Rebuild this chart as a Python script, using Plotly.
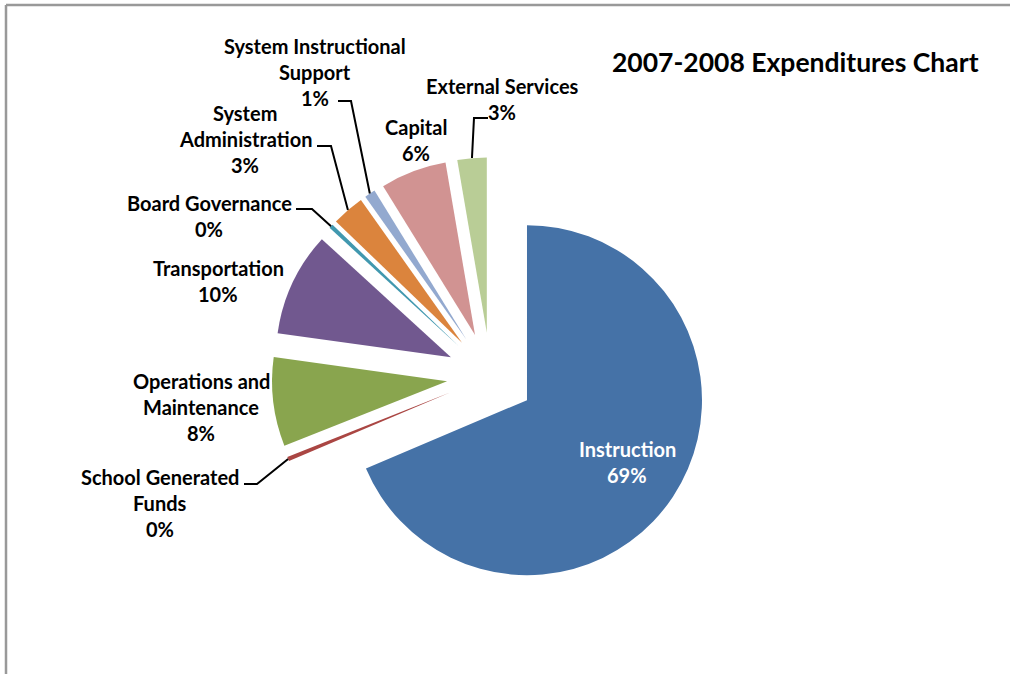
import math
import plotly.graph_objects as go

# ---------------- data ----------------
categories = ["Instruction", "School Generated Funds", "Operations and Maintenance",
              "Transportation", "Board Governance", "System Administration",
              "System Instructional Support", "Capital", "External Services"]
values = [68.6, 0.4, 8.2, 9.6, 0.4, 3.0, 1.0, 6.1, 2.7]
label_lines = [["Instruction"], ["School Generated", "Funds"], ["Operations and", "Maintenance"],
               ["Transportation"], ["Board Governance"], ["System", "Administration"],
               ["System Instructional", "Support"], ["Capital"], ["External Services"]]
colors = ["#4572A7", "#AA4643", "#89A54E", "#71588F", "#4198AF",
          "#DB843D", "#93A9CF", "#D19392", "#B9CD96"]
title_text = "2007-2008 Expenditures Chart"

# ---------------- layout constants ----------------
W, H = 1010, 674
CX, CY = 490.5, 376.0     # pie centre (px)
R = 175.0                 # pie radius (px)
PULL = 0.25               # explode fraction
FONT = "Lato"
FS = 20
LINE_H = 26

# label placement (centre x, first line centre y) in px
label_pos = [(627, 449), (160, 477), (201, 381), (218, 268), (209, 203),
             (245, 113), (315, 46), (416, 127), (502, 86)]
# leader lines: index -> (start x, start y, elbow x)
leaders = {1: (244, 484, 257), 4: (296, 209, 312), 5: (317, 146, 331),
           6: (338, 101, 351), 8: (488, 118, 474)}


def px(x):
    return x / W


def py(y):
    return 1 - y / H


half = R * (1 + PULL)
fig = go.Figure(go.Pie(
    labels=categories, values=values, sort=False, direction="clockwise", rotation=0,
    pull=[PULL] * len(values), marker=dict(colors=colors, line=dict(width=0)),
    textinfo="none", hoverinfo="label+percent", showlegend=False,
    domain=dict(x=[px(CX - half), px(CX + half)], y=[py(CY + half), py(CY - half)]),
))

total = sum(values)
annotations = []
shapes = []
cum = 0.0
for i, v in enumerate(values):
    a0 = cum / total * 2 * math.pi
    a1 = (cum + v) / total * 2 * math.pi
    cum += v
    mid = (a0 + a1) / 2
    pct = f"{round(v / total * 100)}%"
    lines = label_lines[i] + [pct]
    lx, ly = label_pos[i]
    color = "white" if i == 0 else "black"
    for k, t in enumerate(lines):
        annotations.append(dict(
            x=px(lx), y=py(ly + k * LINE_H), xref="paper", yref="paper",
            text=f"<b>{t}</b>", showarrow=False, xanchor="center", yanchor="middle",
            font=dict(family=FONT, size=FS, color=color)))
    if i in leaders:
        sx, sy, ex = leaders[i]
        dist = R * (1 + PULL)
        tx = CX + dist * math.sin(mid)
        ty = CY - dist * math.cos(mid)
        path = f"M {px(sx)} {py(sy)} L {px(ex)} {py(sy)} L {px(tx)} {py(ty)}"
        shapes.append(dict(type="path", path=path, xref="paper", yref="paper",
                           line=dict(color="black", width=2)))

annotations.append(dict(x=px(795), y=py(62), xref="paper", yref="paper",
                        text=f"<b>{title_text}</b>", showarrow=False,
                        xanchor="center", yanchor="middle",
                        font=dict(family=FONT, size=26.5, color="black")))

# chart-area frame (top and left edges visible)
shapes.append(dict(type="line", xref="paper", yref="paper", x0=px(6), y0=py(5), x1=1.0, y1=py(5),
                   line=dict(color="#999999", width=2.5)))
shapes.append(dict(type="line", xref="paper", yref="paper", x0=px(6), y0=py(5), x1=px(6), y1=0.0,
                   line=dict(color="#999999", width=2.5)))

fig.update_layout(
    width=W, height=H, margin=dict(l=0, r=0, t=0, b=0),
    paper_bgcolor="white", plot_bgcolor="white",
    annotations=annotations, shapes=shapes,
)

fig.write_html("out.html", config={"displayModeBar": False},
               post_script="document.body.style.margin='0px';document.body.style.overflow='hidden';")
